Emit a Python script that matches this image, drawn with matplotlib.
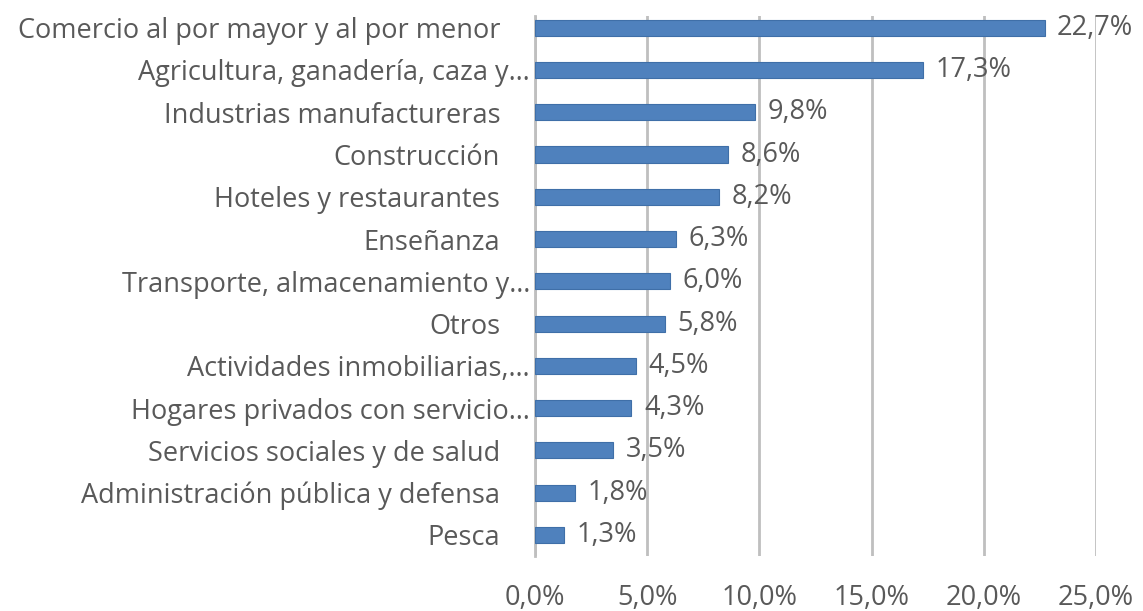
import numpy as np
import matplotlib.pyplot as plt

# sector labels (top to bottom) and share of employment
sectors = ['Comercio al por mayor y al por menor',
           'Agricultura, ganadería, caza y…',
           'Industrias manufactureras',
           'Construcción',
           'Hoteles y restaurantes',
           'Enseñanza',
           'Transporte, almacenamiento y…',
           'Otros',
           'Actividades inmobiliarias,…',
           'Hogares privados con servicio…',
           'Servicios sociales y de salud',
           'Administración pública y defensa',
           'Pesca']
shares = [22.7, 17.3, 9.8, 8.6, 8.2, 6.3, 6.0, 5.8, 4.5, 4.3, 3.5, 1.8, 1.3]
xticks = [0, 5, 10, 15, 20, 25]

plt.rcParams['font.family'] = ['Open Sans', 'DejaVu Sans']
txt = '#595959'
fs = 19.5

fig = plt.figure(figsize=(11.43, 6.11), dpi=100)
ax = fig.add_axes([0.468, 0.090, 0.491, 0.884])

y = np.arange(len(sectors))
bars = ax.barh(y, shares, height=0.38, color='#4f81bd', edgecolor='#3f6fa8',
               linewidth=0.8, zorder=3)
ax.bar_label(bars, labels=[f'{v:.1f}%'.replace('.', ',') for v in shares],
             padding=9, fontsize=fs, color=txt)

ax.set_ylim(len(sectors) - 0.5, -0.28)
ax.set_xlim(0, 25)
ax.set_xticks(xticks)
ax.set_xticklabels([f'{v:.1f}%'.replace('.', ',') for v in xticks],
                   fontsize=fs, color=txt)
ax.set_yticks(y)
ax.set_yticklabels(sectors, fontsize=fs, color=txt)
ax.tick_params(axis='x', length=0, pad=20)
ax.tick_params(axis='y', length=0)
for i, t in enumerate(ax.yaxis.get_major_ticks()):
    t.set_pad(3.5 if sectors[i].endswith('…') else 25)

ax.grid(axis='x', color='#bfbfbf', linewidth=2, zorder=0)
for s in ['top', 'right', 'bottom']:
    ax.spines[s].set_visible(False)
ax.spines['left'].set_color('#bfbfbf')
ax.spines['left'].set_linewidth(2)

plt.savefig('out.png')
